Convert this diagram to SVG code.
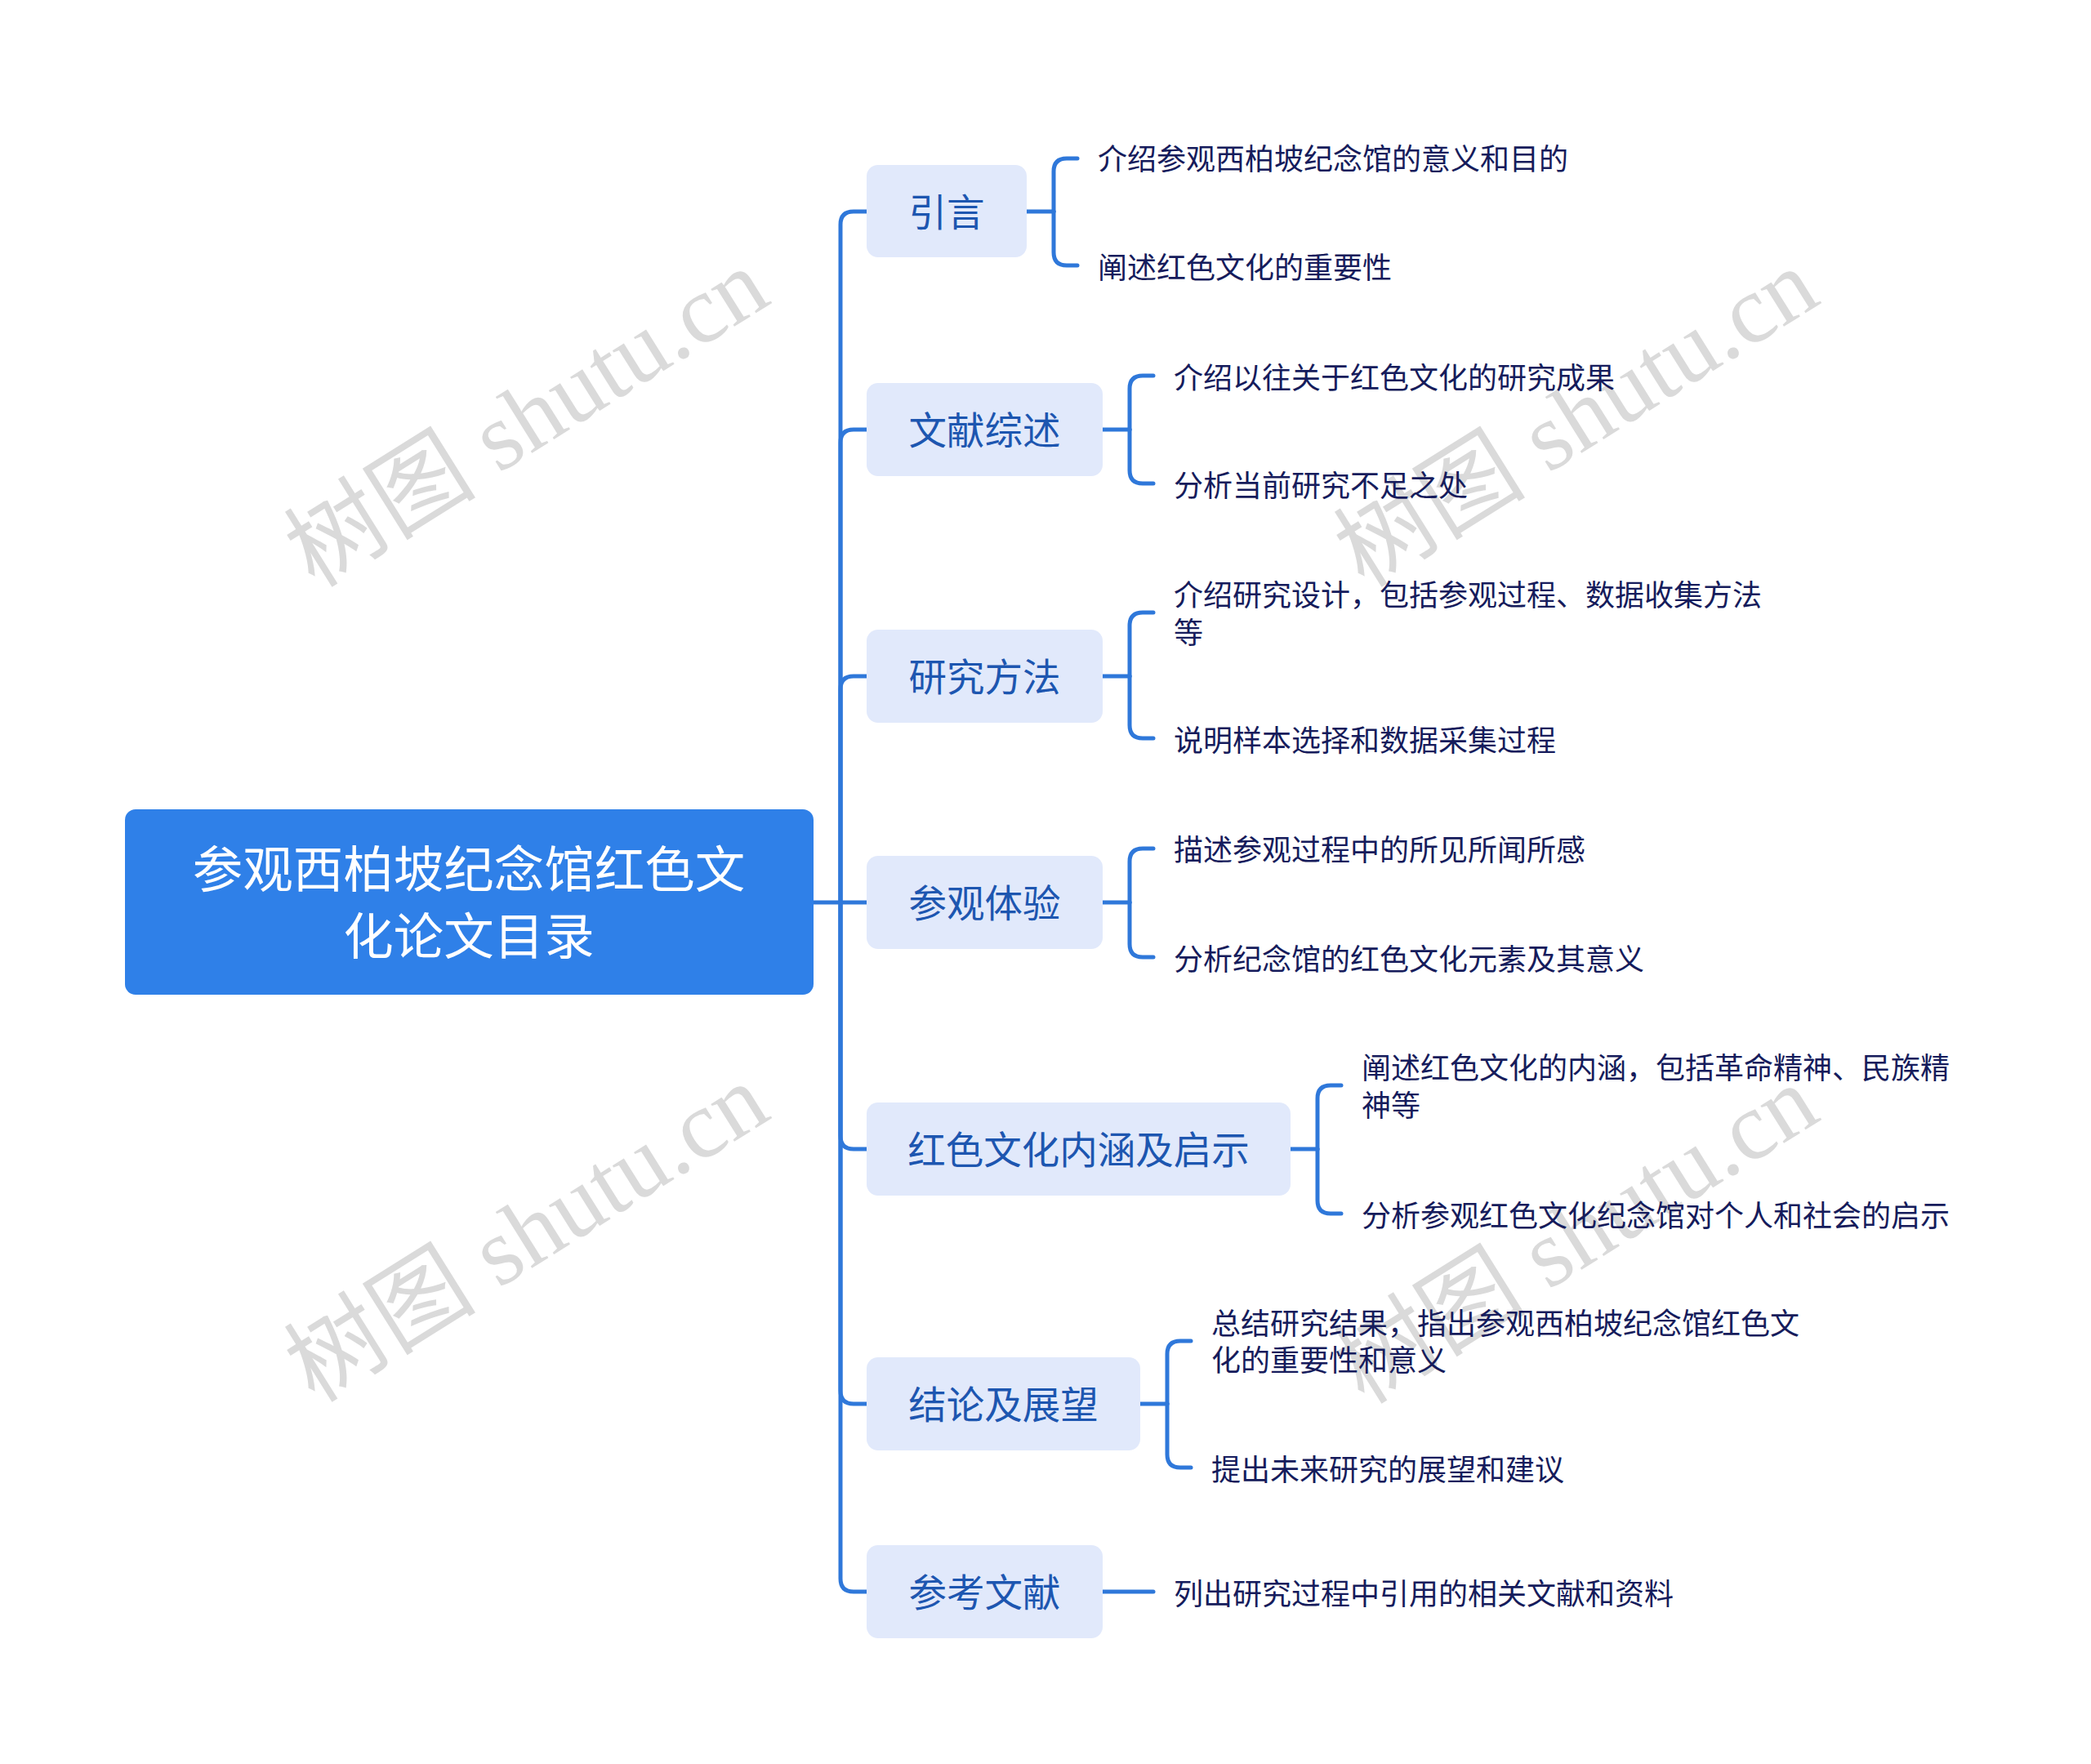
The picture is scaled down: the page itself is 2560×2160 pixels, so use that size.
<svg xmlns="http://www.w3.org/2000/svg" width="2560" height="2160" viewBox="0 0 2560 2160">
<style>
.wm{font-family:"Liberation Serif","Noto Sans CJK SC",serif;font-size:118px;fill:#dadada;text-anchor:middle;dominant-baseline:central}
.root{fill:#2f80e8}
.roott{font-family:"Noto Sans CJK SC","Noto Sans",sans-serif;font-size:61.5px;fill:#ffffff;text-anchor:middle;dominant-baseline:central}
.node{fill:#e1e9fb}
.nodet{font-family:"Noto Sans CJK SC","Noto Sans",sans-serif;font-size:46.5px;fill:#1d56b0;text-anchor:middle;dominant-baseline:central}
.leaf{font-family:"Noto Sans CJK SC","Noto Sans",sans-serif;font-size:36px;fill:#161c5c;dominant-baseline:central}
.conn{fill:none;stroke:#2f78da;stroke-width:5;stroke-linecap:round;stroke-linejoin:round}
</style>
<rect width="2560" height="2160" fill="#ffffff"/>
<g id="watermarks">
<text class="wm" transform="translate(645,512) rotate(-32)">树图 shutu.cn</text>
<text class="wm" transform="translate(1930,512) rotate(-32)">树图 shutu.cn</text>
<text class="wm" transform="translate(645,1510) rotate(-32)">树图 shutu.cn</text>
<text class="wm" transform="translate(1930,1512) rotate(-32)">树图 shutu.cn</text>
</g>
<g id="connectors" class="conn">
<path d="M996 1105 H1029"/>
<path d="M1029 1105 V275 Q1029 259 1045 259 H1061"/>
<path d="M1029 1105 V542 Q1029 526 1045 526 H1061"/>
<path d="M1029 1105 V844 Q1029 828 1045 828 H1061"/>
<path d="M1029 1105 H1061"/>
<path d="M1029 1105 V1391 Q1029 1407 1045 1407 H1061"/>
<path d="M1029 1105 V1703 Q1029 1719 1045 1719 H1061"/>
<path d="M1029 1105 V1933 Q1029 1949 1045 1949 H1061"/>
<path d="M1257 259 H1290"/>
<path d="M1290 259 V210 Q1290 194 1306 194 H1319"/>
<path d="M1290 259 V309 Q1290 325 1306 325 H1319"/>
<path d="M1350 526 H1383"/>
<path d="M1383 526 V476 Q1383 460 1399 460 H1412"/>
<path d="M1383 526 V576 Q1383 592 1399 592 H1412"/>
<path d="M1350 828 H1383"/>
<path d="M1383 828 V766 Q1383 750 1399 750 H1412"/>
<path d="M1383 828 V888 Q1383 904 1399 904 H1412"/>
<path d="M1350 1105 H1383"/>
<path d="M1383 1105 V1055 Q1383 1039 1399 1039 H1412"/>
<path d="M1383 1105 V1156 Q1383 1172 1399 1172 H1412"/>
<path d="M1580 1407 H1613"/>
<path d="M1613 1407 V1345 Q1613 1329 1629 1329 H1642"/>
<path d="M1613 1407 V1470 Q1613 1486 1629 1486 H1642"/>
<path d="M1396 1719 H1429"/>
<path d="M1429 1719 V1658 Q1429 1642 1445 1642 H1458"/>
<path d="M1429 1719 V1781 Q1429 1797 1445 1797 H1458"/>
<path d="M1350 1949 H1412"/>
</g>
<g id="root">
<rect class="root" x="153" y="991" width="843" height="227" rx="13"/>
<text class="roott" x="574" y="1060">参观西柏坡纪念馆红色文</text>
<text class="roott" x="574" y="1142">化论文目录</text>
</g>
<g id="n1">
<rect class="node" x="1061" y="202" width="196" height="113" rx="14"/>
<text class="nodet" x="1159" y="256">引言</text>
</g>
<g id="n2">
<rect class="node" x="1061" y="469" width="289" height="114" rx="14"/>
<text class="nodet" x="1205.5" y="523">文献综述</text>
</g>
<g id="n3">
<rect class="node" x="1061" y="771" width="289" height="114" rx="14"/>
<text class="nodet" x="1205.5" y="825">研究方法</text>
</g>
<g id="n4">
<rect class="node" x="1061" y="1048" width="289" height="114" rx="14"/>
<text class="nodet" x="1205.5" y="1102">参观体验</text>
</g>
<g id="n5">
<rect class="node" x="1061" y="1350" width="519" height="114" rx="14"/>
<text class="nodet" x="1320.5" y="1404">红色文化内涵及启示</text>
</g>
<g id="n6">
<rect class="node" x="1061" y="1662" width="335" height="114" rx="14"/>
<text class="nodet" x="1228.5" y="1716">结论及展望</text>
</g>
<g id="n7">
<rect class="node" x="1061" y="1892" width="289" height="114" rx="14"/>
<text class="nodet" x="1205.5" y="1946">参考文献</text>
</g>
<g id="l1a"><text class="leaf" x="1344" y="192">介绍参观西柏坡纪念馆的意义和目的</text></g>
<g id="l1b"><text class="leaf" x="1344" y="325">阐述红色文化的重要性</text></g>
<g id="l2a"><text class="leaf" x="1437" y="460">介绍以往关于红色文化的研究成果</text></g>
<g id="l2b"><text class="leaf" x="1437" y="592">分析当前研究不足之处</text></g>
<g id="l3a"><text class="leaf" x="1437" y="726">介绍研究设计，包括参观过程、数据收集方法</text><text class="leaf" x="1437" y="772">等</text></g>
<g id="l3b"><text class="leaf" x="1437" y="904">说明样本选择和数据采集过程</text></g>
<g id="l4a"><text class="leaf" x="1437" y="1038">描述参观过程中的所见所闻所感</text></g>
<g id="l4b"><text class="leaf" x="1437" y="1172">分析纪念馆的红色文化元素及其意义</text></g>
<g id="l5a"><text class="leaf" x="1667" y="1305">阐述红色文化的内涵，包括革命精神、民族精</text><text class="leaf" x="1667" y="1351">神等</text></g>
<g id="l5b"><text class="leaf" x="1667" y="1486">分析参观红色文化纪念馆对个人和社会的启示</text></g>
<g id="l6a"><text class="leaf" x="1483" y="1618">总结研究结果，指出参观西柏坡纪念馆红色文</text><text class="leaf" x="1483" y="1663">化的重要性和意义</text></g>
<g id="l6b"><text class="leaf" x="1483" y="1797">提出未来研究的展望和建议</text></g>
<g id="l7"><text class="leaf" x="1437" y="1949">列出研究过程中引用的相关文献和资料</text></g>
</svg>
